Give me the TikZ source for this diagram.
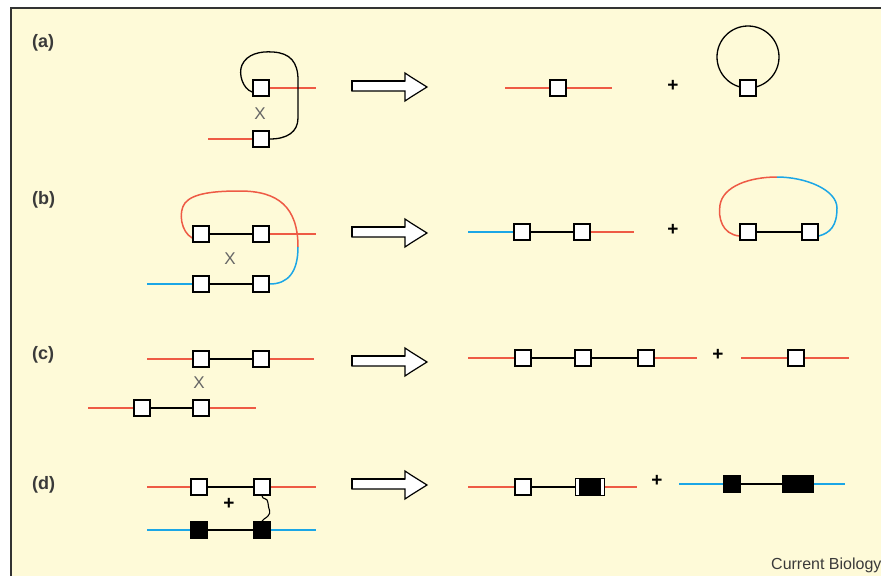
\documentclass[tikz,border=0pt]{standalone}
\usepackage{fontspec}
\setmainfont{Liberation Sans}
\definecolor{cream}{HTML}{FEFAD8}
\definecolor{dnared}{HTML}{EE5A45}
\definecolor{dnablue}{HTML}{1BA6E6}
\definecolor{labgray}{HTML}{3A3A3A}
\pgfdeclarelayer{bg}
\pgfdeclarelayer{lines}
\pgfsetlayers{bg,lines,main}
\tikzset{
  sq/.style={draw=black, line width=1.6pt, fill=white, minimum size=16pt, inner sep=0pt},
  bsq/.style={sq, fill=black},
  red/.style={draw=dnared, line width=1.5pt},
  blue/.style={draw=dnablue, line width=1.5pt},
  blk/.style={draw=black, line width=1.3pt},
  panel/.style={font=\fontsize{18}{20}\selectfont\bfseries, text=labgray, anchor=west, inner sep=0pt},
  xmark/.style={font=\fontsize{17}{18}\selectfont, text=black!60, inner sep=0pt},
  plus/.style={font=\fontsize{19}{19}\selectfont\bfseries, text=black, inner sep=0pt},
  bigarrow/.pic={\draw[line width=1.2pt, fill=white, line join=miter]
     (0,-6) -- (53,-6) -- (53,-14) -- (59,-10) -- (75,0) -- (59,10) -- (53,14) -- (53,4) -- (0,4) -- cycle;
     \draw[line width=1.8pt] (0,4) -- (0,-6) -- (53,-6);}
}
\begin{document}
\begin{tikzpicture}[x=1pt,y=-1pt]
\useasboundingbox (0,0) rectangle (881,576);
\begin{pgfonlayer}{bg}
  \fill[white] (0,0) rectangle (881,576);
  \fill[cream] (11,8) rectangle (881,576);
  \draw[line width=2pt, draw=black!80] (11,576) -- (11,8) -- (881,8);
\end{pgfonlayer}

% panel labels
\node[panel] (la) at (32,43) {(a)};
\node[panel] (lb) at (32,200) {(b)};
\node[panel] (lc) at (32,355) {(c)};
\node[panel] (ld) at (32,485) {(d)};

% arrows
\pic at (352,87) {bigarrow};
\pic at (352,233) {bigarrow};
\pic at (352,362) {bigarrow};
\pic at (352,485) {bigarrow};

% ---------------- (a)
\node[sq] (a1) at (261,88) {};
\node[sq] (a2) at (261,139) {};
\coordinate (a1r) at (316,88);
\coordinate (a2l) at (208,139);
\node[xmark] (ax) at (260,114) {X};
\node[sq] (ra1) at (558,88) {};
\coordinate (ra1l) at (505,88);
\coordinate (ra1r) at (612,88);
\node[plus] (pa) at (673,86) {+};
\node[sq] (ra2) at (748,88) {};
\begin{pgfonlayer}{lines}
  \draw[red] (a1) -- (a1r);
  \draw[red] (a2l) -- (a2);
  \draw[blk] ([yshift=-4pt]a1.west) .. controls (243,89) and (238,74) .. (242,65)
     .. controls (247,54) and (260,51) .. (273,52)
     .. controls (290,53) and (298,62) .. (298,80) -- (298,118)
     .. controls (298,132) and (287,139) .. (a2.east);
  \draw[red] (ra1l) -- (ra1r);
  \draw[blk] ([yshift=31pt]ra2.center) circle[radius=31pt];
\end{pgfonlayer}

% ---------------- (b)
\node[sq] (b1) at (201,234) {};
\node[sq] (b2) at (261,234) {};
\node[sq] (b3) at (201,284) {};
\node[sq] (b4) at (261,284) {};
\coordinate (b2r) at (316,234);
\coordinate (b3l) at (147,284);
\coordinate (bsw) at (298,247);
\node[xmark] (bx) at (230,259) {X};
\node[sq] (rb1) at (522,232) {};
\node[sq] (rb2) at (582,232) {};
\coordinate (rb1l) at (468,232);
\coordinate (rb2r) at (634,232);
\node[plus] (pb) at (673,230) {+};
\node[sq] (rb3) at (748,232) {};
\node[sq] (rb4) at (810,232) {};
\coordinate (rbsw) at (777,177);
\begin{pgfonlayer}{lines}
  \draw[blk] (b1) -- (b2);
  \draw[blk] (b3) -- (b4);
  \draw[red] (b2) -- (b2r);
  \draw[blue] (b3l) -- (b3);
  \draw[red] ([yshift=-4pt]b1.west) .. controls (181,232) and (178,212) .. (185,203)
     .. controls (193,193) and (215,191) .. (240,191)
     .. controls (278,191) and (298,207) .. (bsw);
  \draw[blue] (bsw) .. controls (298,272) and (288,284) .. (b4.east);
  \draw[blue] (rb1l) -- (rb1);
  \draw[blk] (rb1) -- (rb2);
  \draw[red] (rb2) -- (rb2r);
  \draw[blk] (rb3) -- (rb4);
  \draw[red] ([yshift=-4pt]rb3.west) .. controls (722,234) and (718,218) .. (720,205)
     .. controls (723,186) and (750,177) .. (rbsw);
  \draw[blue] (rbsw) .. controls (806,177) and (837,190) .. (837,208)
     .. controls (837,226) and (830,233) .. ([yshift=-4pt]rb4.east);
\end{pgfonlayer}

% ---------------- (c)
\node[sq] (c1) at (201,359) {};
\node[sq] (c2) at (261,359) {};
\node[sq] (c3) at (142,408) {};
\node[sq] (c4) at (201,408) {};
\coordinate (c1l) at (147,359);
\coordinate (c2r) at (314,359);
\coordinate (c3l) at (88,408);
\coordinate (c4r) at (256,408);
\node[xmark] (cx) at (199,383) {X};
\node[sq] (rc1) at (523,358) {};
\node[sq] (rc2) at (583,358) {};
\node[sq] (rc3) at (646,358) {};
\coordinate (rc1l) at (468,358);
\coordinate (rc3r) at (697,358);
\node[plus] (pc) at (718,355) {+};
\node[sq] (rc4) at (796,358) {};
\coordinate (rc4l) at (741,358);
\coordinate (rc4r) at (849,358);
\begin{pgfonlayer}{lines}
  \draw[red] (c1l) -- (c1);
  \draw[blk] (c1) -- (c2);
  \draw[red] (c2) -- (c2r);
  \draw[red] (c3l) -- (c3);
  \draw[blk] (c3) -- (c4);
  \draw[red] (c4) -- (c4r);
  \draw[red] (rc1l) -- (rc1);
  \draw[blk] (rc1) -- (rc2);
  \draw[blk] (rc2) -- (rc3);
  \draw[red] (rc3) -- (rc3r);
  \draw[red] (rc4l) -- (rc4r);
\end{pgfonlayer}

% ---------------- (d)
\node[sq] (d1) at (199,487) {};
\node[sq] (d2) at (262,487) {};
\node[bsq] (d3) at (199,530) {};
\node[bsq] (d4) at (262,530) {};
\coordinate (d1l) at (147,487);
\coordinate (d2r) at (316,487);
\coordinate (d3l) at (147,530);
\coordinate (d4r) at (316,530);
\node[plus] (pd) at (229,504) {+};
\node[sq] (rd1) at (523,487) {};
\node[sq, fill=black, minimum width=29pt, minimum height=17pt] (rd2) at (590,487) {};
\fill[white] ([xshift=1.6pt,yshift=1.6pt]rd2.south west) rectangle ([xshift=4.6pt,yshift=-1.6pt]rd2.north west);
\fill[white] ([xshift=-1.6pt,yshift=1.6pt]rd2.south east) rectangle ([xshift=-4.6pt,yshift=-1.6pt]rd2.north east);
\coordinate (rd1l) at (468,487);
\coordinate (rd2r) at (637,487);
\node[plus] (pd2) at (657,481) {+};
\node[bsq, minimum size=17pt] (rd3) at (732,484) {};
\node[bsq, minimum width=30pt, minimum height=17pt] (rd4) at (798,484) {};
\coordinate (rd3l) at (679,484);
\coordinate (rd4r) at (845,484);
\begin{pgfonlayer}{lines}
  \draw[red] (d1l) -- (d1);
  \draw[blk] (d1) -- (d2);
  \draw[red] (d2) -- (d2r);
  \draw[blue] (d3l) -- (d3);
  \draw[blk] (d3) -- (d4);
  \draw[blue] (d4) -- (d4r);
  \draw[blk, line width=1.1pt] (d2.south) .. controls (262,500) and (268,497) .. (268,503)
     .. controls (268,509) and (272,512) .. (268,516)
     .. controls (265,519) and (263,519) .. (d4.north);
  \draw[red] (rd1l) -- (rd1);
  \draw[blk] (rd1) -- (rd2);
  \draw[red] (rd2) -- (rd2r);
  \draw[blue] (rd3l) -- (rd3);
  \draw[blk] (rd3) -- (rd4);
  \draw[blue] (rd4) -- (rd4r);
\end{pgfonlayer}

\node[anchor=west, font=\fontsize{16}{18}\selectfont, text=labgray, inner sep=0pt] (cb) at (771,565) {Current Biology};
\end{tikzpicture}
\end{document}
